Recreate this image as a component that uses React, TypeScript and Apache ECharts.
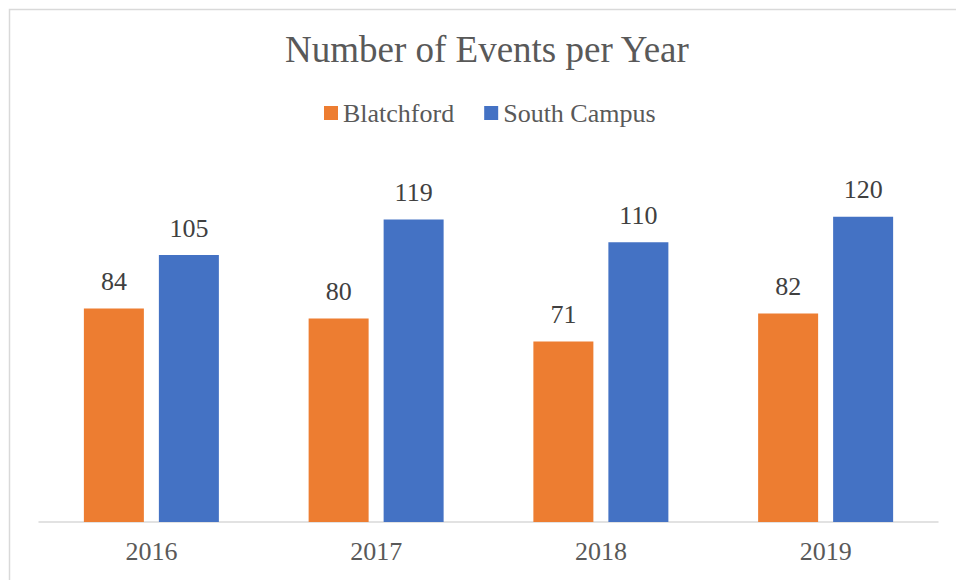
import React, { useEffect, useRef } from "react";
import * as echarts from "echarts";

const categories = ["2016", "2017", "2018", "2019"];
const blatchford = [84, 80, 71, 82];
const southCampus = [105, 119, 110, 120];
const seriesNames = ["Blatchford", "South Campus"];

const FONT = "'Liberation Serif', 'Times New Roman', serif";

export default function App() {
  const ref = useRef<HTMLDivElement>(null);
  useEffect(() => {
    if (!ref.current) return;
    const chart = echarts.init(ref.current, undefined, { renderer: "svg" });
    chart.setOption({
      animation: false,
      backgroundColor: "#ffffff",
      textStyle: { fontFamily: FONT },
      title: {
        text: "Number of Events per Year",
        left: 285,
        top: 31,
        padding: 0,
        textStyle: { fontFamily: FONT, fontSize: 37, fontWeight: "normal", color: "#595959" },
      },
      legend: {
        data: seriesNames,
        top: 100,
        left: 324,
        padding: 0,
        icon: "rect",
        itemWidth: 14,
        itemHeight: 14,
        itemGap: 30,
        textStyle: { fontFamily: FONT, fontSize: 26, color: "#595959" },
      },
      graphic: [
        {
          type: "rect",
          shape: { x: 9.5, y: 9.5, width: 1000, height: 1000 },
          style: { fill: "none", stroke: "#d9d9d9", lineWidth: 1.5 },
          silent: true,
          z: -1,
        },
      ],
      grid: { left: 39, right: 18, top: 166, bottom: 58, containLabel: false },
      xAxis: {
        type: "category",
        data: categories,
        axisLine: { show: true, lineStyle: { color: "#d9d9d9", width: 1.5 } },
        axisTick: { show: false },
        axisLabel: { fontFamily: FONT, fontSize: 26, color: "#595959", margin: 16 },
      },
      yAxis: {
        type: "value",
        min: 0,
        max: 140,
        interval: 20,
        show: false,
        splitLine: { show: false },
      },
      series: [
        {
          name: seriesNames[0],
          type: "bar",
          data: blatchford,
          barWidth: 60,
          barGap: "25%",
          itemStyle: { color: "#ED7D31" },
          label: {
            show: true,
            position: "top",
            distance: 14,
            fontFamily: FONT,
            fontSize: 26,
            color: "#404040",
          },
        },
        {
          name: seriesNames[1],
          type: "bar",
          data: southCampus,
          barWidth: 60,
          itemStyle: { color: "#4472C4" },
          label: {
            show: true,
            position: "top",
            distance: 14,
            fontFamily: FONT,
            fontSize: 26,
            color: "#404040",
          },
        },
      ],
    });
    return () => chart.dispose();
  }, []);
  return (
    <div
      ref={ref}
      style={{ position: "fixed", left: 0, top: 0, width: 956, height: 580 }}
    />
  );
}
